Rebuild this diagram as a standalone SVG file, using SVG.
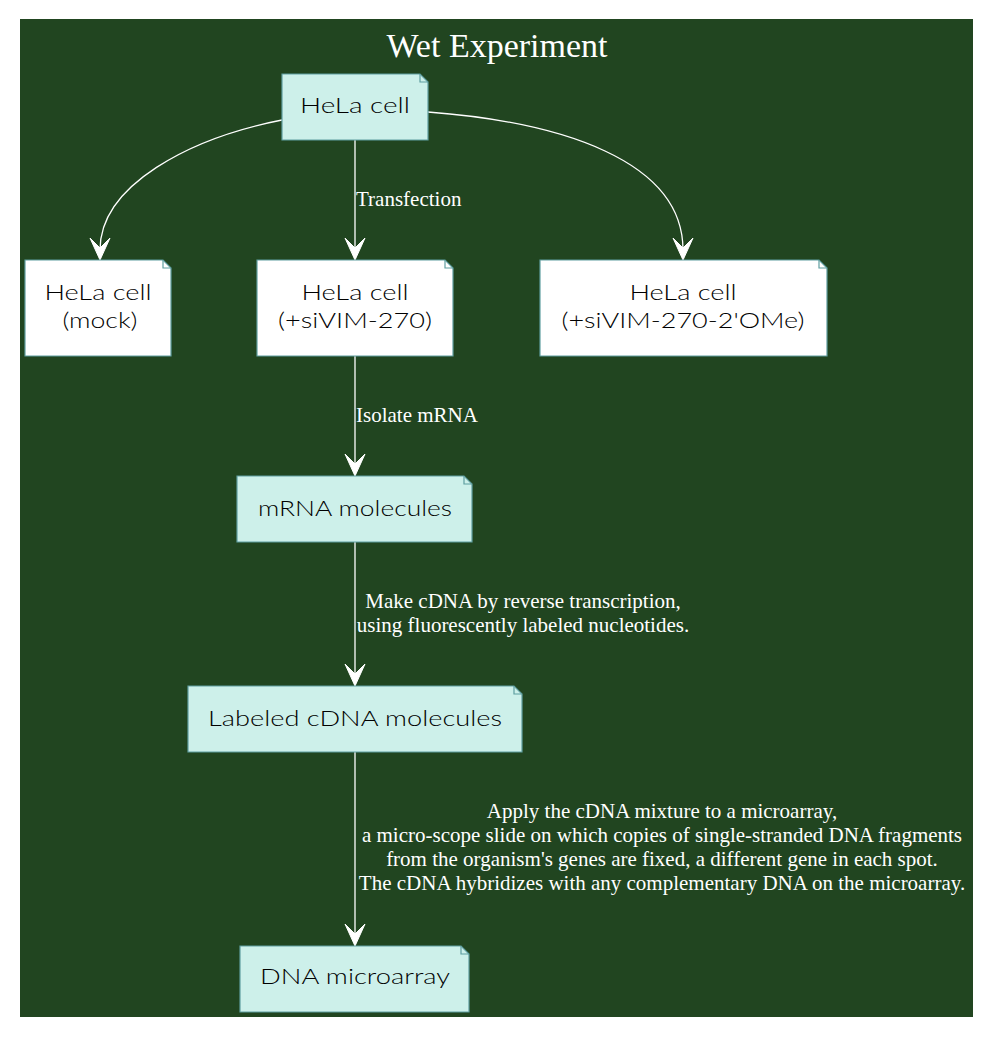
<svg xmlns="http://www.w3.org/2000/svg" width="993" height="1037" viewBox="0 0 993 1037">
<style>
.note{stroke:#5f9ea0;stroke-width:1.2}
.cyan{fill:#cdf0ea}
.white{fill:#ffffff}
.fold{fill:none;stroke:#5f9ea0;stroke-width:1.2}
.nt{font-family:Lato,"Noto Sans",sans-serif;font-weight:300;font-size:21px;fill:#000;text-anchor:middle}
.el{font-family:"Liberation Serif",serif;font-size:21px;fill:#ffffff}
.elc{text-anchor:middle}
.edge{fill:none;stroke:#ffffff;stroke-width:1.3}
.arr{fill:#ffffff;stroke:#ffffff;stroke-width:1}
</style>
<rect width="993" height="1037" fill="#ffffff"/>
<rect x="20" y="19" width="953" height="998" fill="#214520"/>
<text x="497" y="57" font-family="Liberation Serif,serif" font-size="34" fill="#ffffff" text-anchor="middle">Wet Experiment</text>

<g id="connectors">
  <path class="edge" d="M355,140 L355,250"/>
  <polygon class="arr" points="355,260 345,238 355,248 365,238"/>
  <text class="el" x="356" y="206">Transfection</text>

  <path class="edge" d="M282,120 C190,138 100,185 100,250"/>
  <polygon class="arr" points="100,260 90,238 100,248 110,238"/>

  <path class="edge" d="M428,112 C560,122 683,160 683,250"/>
  <polygon class="arr" points="683,260 673,238 683,248 693,238"/>

  <path class="edge" d="M355,356 L355,466"/>
  <polygon class="arr" points="355,476 345,454 355,464 365,454"/>
  <text class="el" x="356" y="422">Isolate mRNA</text>

  <path class="edge" d="M355,542 L355,676"/>
  <polygon class="arr" points="355,686 345,664 355,674 365,664"/>
  <text class="el elc" x="523" y="608">Make cDNA by reverse transcription,</text>
  <text class="el elc" x="523" y="632">using fluorescently labeled nucleotides.</text>

  <path class="edge" d="M355,752 L355,936"/>
  <polygon class="arr" points="355,946 345,924 355,934 365,924"/>
  <text class="el elc" x="662" y="818">Apply the cDNA mixture to a microarray,</text>
  <text class="el elc" x="662" y="842">a micro-scope slide on which copies of single-stranded DNA fragments</text>
  <text class="el elc" x="662" y="866">from the organism's genes are fixed, a different gene in each spot.</text>
  <text class="el elc" x="662" y="890">The cDNA hybridizes with any complementary DNA on the microarray.</text>
</g>

<g id="hela">
  <path class="note cyan" d="M282,74 H420 L428,82 V140 H282 Z"/>
  <path class="fold" d="M420,74 V82 H428"/>
  <text class="nt" x="355" y="113" textLength="110" lengthAdjust="spacingAndGlyphs">HeLa cell</text>
</g>

<g id="mock">
  <path class="note white" d="M25,260 H163 L171,268 V356 H25 Z"/>
  <path class="fold" d="M163,260 V268 H171"/>
  <text class="nt" x="98" y="300" textLength="107" lengthAdjust="spacingAndGlyphs">HeLa cell</text>
  <text class="nt" x="100" y="328" textLength="75" lengthAdjust="spacingAndGlyphs">(mock)</text>
</g>

<g id="sivim">
  <path class="note white" d="M257,260 H445 L453,268 V356 H257 Z"/>
  <path class="fold" d="M445,260 V268 H453"/>
  <text class="nt" x="355" y="300" textLength="107" lengthAdjust="spacingAndGlyphs">HeLa cell</text>
  <text class="nt" x="355" y="328" textLength="154" lengthAdjust="spacingAndGlyphs">(+siVIM-270)</text>
</g>

<g id="sivim2ome">
  <path class="note white" d="M540,260 H819 L827,268 V356 H540 Z"/>
  <path class="fold" d="M819,260 V268 H827"/>
  <text class="nt" x="683" y="300" textLength="107" lengthAdjust="spacingAndGlyphs">HeLa cell</text>
  <text class="nt" x="683" y="328" textLength="243" lengthAdjust="spacingAndGlyphs">(+siVIM-270-2'OMe)</text>
</g>

<g id="mrna">
  <path class="note cyan" d="M237,476 H464 L472,484 V542 H237 Z"/>
  <path class="fold" d="M464,476 V484 H472"/>
  <text class="nt" x="355" y="516" textLength="194" lengthAdjust="spacingAndGlyphs">mRNA molecules</text>
</g>

<g id="cdna">
  <path class="note cyan" d="M188,686 H514 L522,694 V752 H188 Z"/>
  <path class="fold" d="M514,686 V694 H522"/>
  <text class="nt" x="355" y="726" textLength="294" lengthAdjust="spacingAndGlyphs">Labeled cDNA molecules</text>
</g>

<g id="microarray">
  <path class="note cyan" d="M240,946 H461 L469,954 V1012 H240 Z"/>
  <path class="fold" d="M461,946 V954 H469"/>
  <text class="nt" x="355" y="984" textLength="190" lengthAdjust="spacingAndGlyphs">DNA microarray</text>
</g>
</svg>
